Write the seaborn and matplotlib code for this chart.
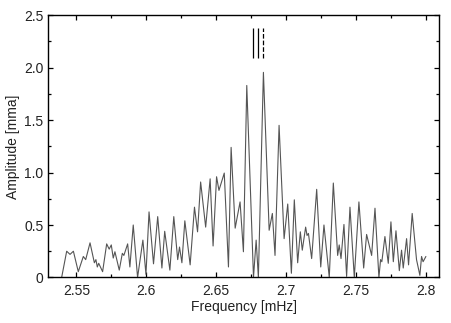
import matplotlib
matplotlib.use("Agg")
import matplotlib.pyplot as plt
import seaborn as sns
import pandas as pd
from matplotlib.ticker import MultipleLocator

# Spectrum (frequency in mHz, amplitude in mma)
freq = [
    2.5395, 2.5431, 2.5455, 2.5479, 2.5514, 2.5550, 2.5567, 2.5598, 2.5629, 2.5640,
    2.5650, 2.5660, 2.5688, 2.5717, 2.5735, 2.5750, 2.5764, 2.5776, 2.5807, 2.5829,
    2.5840, 2.5867, 2.5883, 2.5907, 2.5938, 2.5976, 2.5998, 2.6020, 2.6052, 2.6082,
    2.6112, 2.6132, 2.6169, 2.6197, 2.6225, 2.6238, 2.6255, 2.6276, 2.6314, 2.6345,
    2.6367, 2.6389, 2.6425, 2.6457, 2.6478, 2.6503, 2.6520, 2.6558, 2.6588, 2.6607,
    2.6636, 2.6671, 2.6695, 2.6719, 2.6767, 2.6786, 2.6802, 2.6838, 2.6879, 2.6902,
    2.6921, 2.6950, 2.6986, 2.7012, 2.7038, 2.7059, 2.7083, 2.7102, 2.7116, 2.7140,
    2.7150, 2.7160, 2.7183, 2.7219, 2.7248, 2.7271, 2.7309, 2.7338, 2.7369, 2.7380,
    2.7393, 2.7414, 2.7433, 2.7457, 2.7488, 2.7521, 2.7555, 2.7576, 2.7612, 2.7636,
    2.7664, 2.7676, 2.7685, 2.7707, 2.7731, 2.7750, 2.7767, 2.7786, 2.7810, 2.7826,
    2.7838, 2.7862, 2.7876, 2.7902, 2.7933, 2.7957, 2.7969, 2.7980, 2.8000,
]
amp = [
    0.00, 0.25, 0.22, 0.25, 0.055, 0.20, 0.17, 0.33, 0.14, 0.17,
    0.10, 0.135, 0.055, 0.32, 0.27, 0.31, 0.185, 0.245, 0.07, 0.23,
    0.21, 0.32, 0.10, 0.50, 0.00, 0.356, 0.03, 0.625, 0.13, 0.58,
    0.09, 0.44, 0.07, 0.58, 0.17, 0.29, 0.14, 0.54, 0.12, 0.67,
    0.435, 0.91, 0.48, 0.94, 0.30, 0.96, 0.83, 0.995, 0.10, 1.24,
    0.47, 0.72, 0.245, 1.83, 0.00, 0.356, 0.00, 1.955, 0.45, 0.61,
    0.21, 1.45, 0.37, 0.70, 0.04, 0.74, 0.14, 0.435, 0.26, 0.48,
    0.40, 0.42, 0.18, 0.84, 0.10, 0.50, 0.00, 0.90, 0.21, 0.31,
    0.18, 0.505, 0.01, 0.67, 0.00, 0.72, 0.09, 0.41, 0.21, 0.66,
    0.00, 0.17, 0.15, 0.39, 0.135, 0.53, 0.15, 0.445, 0.065, 0.26,
    0.09, 0.37, 0.12, 0.61, 0.17, 0.02, 0.20, 0.15, 0.20,
]

# Frequency marks drawn above the central peaks
mark_freqs = [2.6762, 2.6798, 2.6834]
mark_styles = ["-", "-", "--"]
mark_ymin, mark_ymax = 2.09, 2.38

x_ticks = [2.55, 2.60, 2.65, 2.70, 2.75, 2.80]
x_tick_labels = ["2.55", "2.6", "2.65", "2.7", "2.75", "2.8"]
y_ticks = [0, 0.5, 1.0, 1.5, 2.0, 2.5]
y_tick_labels = ["0", "0.5", "1.0", "1.5", "2.0", "2.5"]

sns.set_style("ticks")
plt.rcParams["font.family"] = ["Liberation Sans", "DejaVu Sans"]

fig = plt.figure(figsize=(4.52, 3.23), dpi=100)
ax = fig.add_axes([0.107, 0.141, 0.864, 0.812])

df = pd.DataFrame({"freq": freq, "amp": amp})
sns.lineplot(data=df, x="freq", y="amp", ax=ax, sort=False, estimator=None,
             color="#555555", linewidth=0.8)

for f, ls in zip(mark_freqs, mark_styles):
    ax.vlines(f, mark_ymin, mark_ymax, colors="black", linestyles=ls, linewidth=0.9)

ax.set_xlim(2.530, 2.8093)
ax.set_ylim(0, 2.5)
ax.set_xticks(x_ticks)
ax.set_xticklabels(x_tick_labels)
ax.set_yticks(y_ticks)
ax.set_yticklabels(y_tick_labels)
ax.xaxis.set_minor_locator(MultipleLocator(0.025))
ax.yaxis.set_minor_locator(MultipleLocator(0.25))
ax.tick_params(which="both", direction="in", top=True, right=True, labelsize=10,
               width=0.9, colors="black", labelcolor="#222222")
ax.tick_params(which="major", length=3.5, pad=4.5)
ax.tick_params(which="minor", length=2)
ax.tick_params(axis="y", which="major", pad=3.5)
for s in ax.spines.values():
    s.set_linewidth(1.0)
    s.set_color("black")

ax.set_xlabel("Frequency [mHz]", fontsize=10, labelpad=2, color="#222222")
ax.set_ylabel("Amplitude [mma]", fontsize=10, labelpad=3, color="#222222")

fig.savefig("out.png", dpi=100)
